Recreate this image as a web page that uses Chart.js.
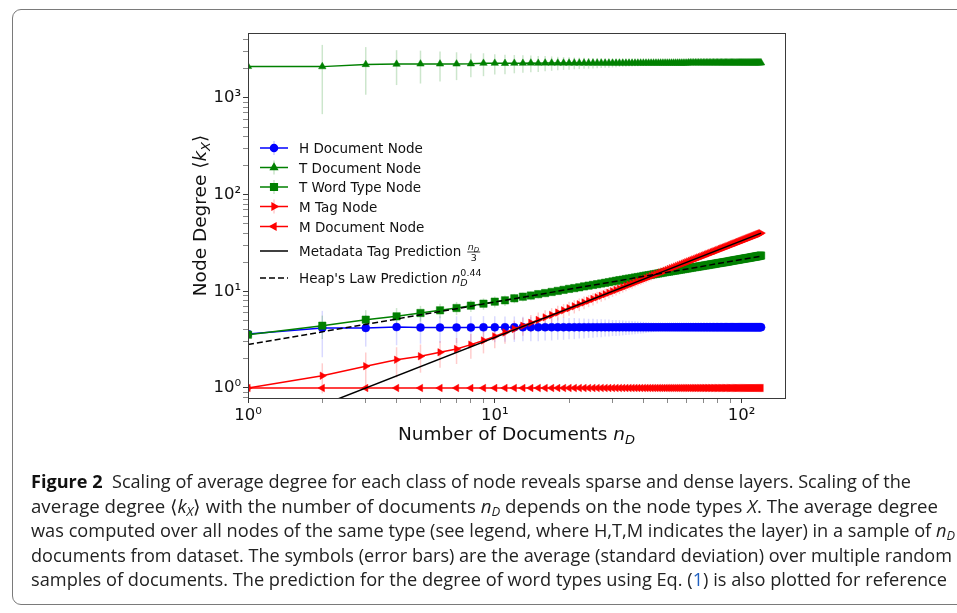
<!DOCTYPE html>
<html>
<head>
<meta charset="utf-8">
<script src="https://cdn.jsdelivr.net/npm/chart.js@4.4.1/dist/chart.umd.min.js"></script>
<style>
  html, body { margin: 0; padding: 0; background: #fff; }
  body { width: 957px; height: 613px; position: relative; overflow: hidden; }
  #frame { position: absolute; left: 12px; top: 9px; width: 1000px; height: 596px; border: 1.5px solid #7a7a7a; border-radius: 9px; box-sizing: border-box; }
  #chart { position: absolute; left: 0; top: 0; }
  .cap { position: absolute; left: 31px; white-space: nowrap; font-family: 'Open Sans', sans-serif; font-size: 17.5px; line-height: 20px; color: #222; transform-origin: 0 0; }
  .cap b { font-weight: 700; color: #111; }
  .cap sub { font-size: 70%; vertical-align: -0.25em; line-height: 0; }
  .cap .ref { color: #2060c0; }
</style>
</head>
<body>
<div id="frame"></div>
<canvas id="chart" width="957" height="613"></canvas>

<div class="cap" data-right="911" data-base="488"><b>Figure 2</b>&nbsp; Scaling of average degree for each class of node reveals sparse and dense layers. Scaling of the</div>
<div class="cap" data-right="938" data-base="512.5">average degree ⟨<i>k</i><sub><i>X</i></sub>⟩ with the number of documents <i>n</i><sub><i>D</i></sub> depends on the node types <i>X</i>. The average degree</div>
<div class="cap" data-right="955" data-base="537">was computed over all nodes of the same type (see legend, where H,T,M indicates the layer) in a sample of <i>n</i><sub><i>D</i></sub></div>
<div class="cap" data-right="952" data-base="561.5">documents from dataset. The symbols (error bars) are the average (standard deviation) over multiple random</div>
<div class="cap" data-right="947" data-base="586">samples of documents. The prediction for the degree of word types using Eq. (<span class="ref">1</span>) is also plotted for reference</div>

<script>
// number of documents in the sample
const nDocs = [
  1, 2, 3, 4, 5, 6, 7, 8, 9, 10,
  11, 12, 13, 14, 15, 16, 17, 18, 19, 20,
  21, 22, 23, 24, 25, 26, 27, 28, 29, 30,
  31, 32, 33, 34, 35, 36, 37, 38, 39, 40,
  41, 42, 43, 44, 45, 46, 47, 48, 49, 50,
  51, 52, 53, 54, 55, 56, 57, 58, 59, 60,
  61, 62, 63, 64, 65, 66, 67, 68, 69, 70,
  71, 72, 73, 74, 75, 76, 77, 78, 79, 80,
  81, 82, 83, 84, 85, 86, 87, 88, 89, 90,
  91, 92, 93, 94, 95, 96, 97, 98, 99, 100,
  101, 102, 103, 104, 105, 106, 107, 108, 109, 110,
  111, 112, 113, 114, 115, 116, 117, 118, 119, 120
];

// H Document Node
const hDoc = [
  3.62, 4.18, 4.18, 4.27, 4.22, 4.22, 4.22, 4.23, 4.24, 4.24,
  4.25, 4.25, 4.25, 4.25, 4.25, 4.25, 4.25, 4.25, 4.25, 4.25,
  4.25, 4.25, 4.25, 4.25, 4.25, 4.25, 4.25, 4.25, 4.25, 4.25,
  4.25, 4.25, 4.25, 4.25, 4.25, 4.25, 4.25, 4.25, 4.25, 4.25,
  4.25, 4.25, 4.25, 4.25, 4.25, 4.25, 4.25, 4.25, 4.25, 4.25,
  4.25, 4.25, 4.25, 4.25, 4.25, 4.25, 4.25, 4.25, 4.25, 4.25,
  4.25, 4.25, 4.25, 4.25, 4.25, 4.25, 4.25, 4.25, 4.25, 4.25,
  4.25, 4.25, 4.25, 4.25, 4.25, 4.25, 4.25, 4.25, 4.25, 4.25,
  4.25, 4.25, 4.25, 4.25, 4.25, 4.25, 4.25, 4.25, 4.25, 4.25,
  4.25, 4.25, 4.25, 4.25, 4.25, 4.25, 4.25, 4.25, 4.25, 4.25,
  4.25, 4.25, 4.25, 4.25, 4.25, 4.25, 4.25, 4.25, 4.25, 4.25,
  4.25, 4.25, 4.25, 4.25, 4.25, 4.25, 4.25, 4.25, 4.25, 4.25
];
const hDocStd = [
  0, 2.1, 1.5, 1.5, 1.35, 1.3, 1.3, 1.3, 1.3, 1.27,
  1.25, 1.25, 1.2, 1.2, 1.2, 1.15, 1.15, 1.1, 1.1, 1.05,
  1.05, 1.0, 1.0, 0.95, 0.95, 0.9, 0.9, 0.85, 0.85, 0.8,
  0.8, 0.78, 0.75, 0.72, 0.7, 0.68, 0.65, 0.62, 0.6, 0.58,
  0.55, 0.5, 0.48, 0.45, 0.42, 0.4, 0.38, 0.35, 0.32, 0.3
];

// T Document Node
const tDoc = [
  2120, 2110, 2220, 2240, 2250, 2250, 2250, 2260, 2290, 2290,
  2280, 2290, 2290, 2300, 2290, 2300, 2300, 2300, 2300, 2300,
  2300, 2300, 2300, 2300, 2300, 2300, 2300, 2300, 2300, 2300,
  2300, 2300, 2300, 2300, 2300, 2300, 2300, 2300, 2300, 2300,
  2300, 2300, 2300, 2300, 2300, 2300, 2300, 2300, 2300, 2300,
  2300, 2300, 2300, 2300, 2300, 2300, 2300, 2300, 2300, 2300,
  2310, 2310, 2310, 2310, 2310, 2310, 2310, 2310, 2310, 2310,
  2310, 2310, 2310, 2310, 2310, 2310, 2310, 2310, 2310, 2310,
  2310, 2310, 2310, 2310, 2310, 2310, 2310, 2310, 2310, 2310,
  2310, 2310, 2310, 2310, 2310, 2310, 2310, 2310, 2310, 2310,
  2310, 2310, 2310, 2310, 2310, 2310, 2310, 2310, 2310, 2310,
  2310, 2310, 2310, 2310, 2310, 2310, 2310, 2310, 2310, 2310
];
const tDocStd = [
  0, 1430, 1140, 880, 840, 770, 720, 625, 610, 545,
  520, 490, 470, 450, 430, 410, 390, 370, 350, 340,
  320, 310, 300, 290, 280, 270, 260, 250, 240, 230,
  220, 210, 200, 195, 190, 180, 175, 170, 160, 155,
  150, 145, 140, 135, 130, 125, 120, 115, 110, 105
];

// T Word Type Node
const tWord = [
  3.56, 4.41, 5.09, 5.51, 5.97, 6.36, 6.72, 7.11, 7.45, 7.82,
  8.07, 8.47, 8.8, 9.05, 9.35, 9.6, 9.85, 10.1, 10.35, 10.6,
  10.8, 11.0, 11.25, 11.45, 11.65, 11.85, 12.05, 12.25, 12.45, 12.65,
  12.85, 13.05, 13.2, 13.4, 13.55, 13.7, 13.9, 14.05, 14.2, 14.4,
  14.55, 14.7, 14.85, 15.0, 15.15, 15.3, 15.45, 15.6, 15.75, 15.9,
  16.0, 16.15, 16.3, 16.4, 16.55, 16.7, 16.8, 16.95, 17.05, 17.2,
  17.3, 17.45, 17.55, 17.7, 17.8, 17.9, 18.05, 18.15, 18.25, 18.4,
  18.5, 18.6, 18.7, 18.85, 18.95, 19.05, 19.15, 19.25, 19.4, 19.5,
  19.6, 19.7, 19.8, 19.9, 20.0, 20.1, 20.2, 20.3, 20.4, 20.55,
  20.65, 20.75, 20.85, 20.95, 21.05, 21.15, 21.25, 21.35, 21.45, 21.55,
  21.65, 21.75, 21.85, 21.95, 22.0, 22.1, 22.2, 22.3, 22.4, 22.5,
  22.6, 22.7, 22.8, 22.9, 22.95, 23.05, 23.15, 23.25, 23.35, 23.45
];
const tWordStd = [
  0, 1.2, 1.3, 1.2, 1.1, 1.1, 1.05, 1.0, 1.0, 1.0,
  1.0, 0.95, 0.95, 0.95, 0.9, 0.9, 0.9, 0.9, 0.85, 0.85,
  0.85, 0.85, 0.8, 0.8, 0.8, 0.8, 0.8, 0.75, 0.75, 0.75,
  0.75, 0.75, 0.72, 0.72, 0.7, 0.7, 0.7, 0.68, 0.68, 0.66,
  0.66, 0.65, 0.65, 0.64, 0.63, 0.62, 0.62, 0.61, 0.6, 0.6
];

// M Tag Node
const mTag = [
  1.0, 1.34, 1.68, 1.96, 2.13, 2.34, 2.53, 2.81, 3.1, 3.42,
  3.75, 4.07, 4.4, 4.73, 5.06, 5.38, 5.7, 6.03, 6.36, 6.69,
  7.0, 7.34, 7.67, 8.0, 8.34, 8.67, 9.0, 9.34, 9.67, 10.0,
  10.34, 10.67, 11.0, 11.34, 11.67, 12.0, 12.34, 12.67, 13.0, 13.34,
  13.67, 14.0, 14.34, 14.67, 15.0, 15.34, 15.67, 16.0, 16.34, 16.67,
  17.0, 17.34, 17.67, 18.0, 18.34, 18.67, 19.0, 19.34, 19.67, 20.0,
  20.34, 20.67, 21.0, 21.34, 21.67, 22.0, 22.34, 22.67, 23.0, 23.34,
  23.67, 24.0, 24.34, 24.67, 25.0, 25.34, 25.67, 26.0, 26.34, 26.67,
  27.0, 27.34, 27.67, 28.0, 28.34, 28.67, 29.0, 29.34, 29.67, 30.0,
  30.34, 30.67, 31.0, 31.34, 31.67, 32.0, 32.34, 32.67, 33.0, 33.34,
  33.67, 34.0, 34.34, 34.67, 35.0, 35.34, 35.67, 36.0, 36.34, 36.67,
  37.0, 37.34, 37.67, 38.0, 38.34, 38.67, 39.0, 39.34, 39.67, 40.0
];
const mTagStd = [
  0, 0.46, 0.65, 0.68, 0.69, 0.72, 0.76, 0.8, 0.82, 0.85,
  0.88, 0.9, 0.92, 0.95, 0.97, 1.0, 1.0, 1.05, 1.05, 1.1,
  1.1, 1.1, 1.15, 1.15, 1.2, 1.2, 1.2, 1.25, 1.25, 1.25,
  1.3, 1.3, 1.3, 1.3, 1.3, 1.35, 1.35, 1.35, 1.35, 1.35,
  1.4, 1.4, 1.4, 1.4, 1.4, 1.4, 1.4, 1.4, 1.4, 1.4
];

// M Document Node
const mDoc = [
  1, 1, 1, 1, 1, 1, 1, 1, 1, 1,
  1, 1, 1, 1, 1, 1, 1, 1, 1, 1,
  1, 1, 1, 1, 1, 1, 1, 1, 1, 1,
  1, 1, 1, 1, 1, 1, 1, 1, 1, 1,
  1, 1, 1, 1, 1, 1, 1, 1, 1, 1,
  1, 1, 1, 1, 1, 1, 1, 1, 1, 1,
  1, 1, 1, 1, 1, 1, 1, 1, 1, 1,
  1, 1, 1, 1, 1, 1, 1, 1, 1, 1,
  1, 1, 1, 1, 1, 1, 1, 1, 1, 1,
  1, 1, 1, 1, 1, 1, 1, 1, 1, 1,
  1, 1, 1, 1, 1, 1, 1, 1, 1, 1,
  1, 1, 1, 1, 1, 1, 1, 1, 1, 1
];

// prediction lines (straight on log-log axes, so the two end points are enough)
const predX = [1, 120];
const tagPredY = [0.333, 40.0];   // n_D / 3
const heapPredY = [2.81, 23.1];   // Heap's law ~ n_D^0.44

// axis ticks
const xTickValues = [1, 2, 3, 4, 5, 6, 7, 8, 9, 10, 20, 30, 40, 50, 60, 70, 80, 90, 100];
const yTickValues = [0.8, 0.9, 1, 2, 3, 4, 5, 6, 7, 8, 9, 10, 20, 30, 40, 50, 60, 70, 80, 90,
  100, 200, 300, 400, 500, 600, 700, 800, 900, 1000, 2000, 3000, 4000];
const decadeLabels = { 1: '10⁰', 10: '10¹', 100: '10²', 1000: '10³' };

const FAM = 'DejaVu Sans';
const BLUE = '#0000ff', GREEN = '#008000', RED = '#ff0000';
const AXIS = '#3a3a3a';

function pts(xs, ys) {
  return xs.map((x, i) => ({ x, y: ys[i] }));
}

function alpha(hex, a) {
  const v = parseInt(hex.slice(1), 16);
  return `rgba(${(v >> 16) & 255},${(v >> 8) & 255},${v & 255},${a})`;
}

function seriesSet(label, values, errors, color, style, rotation, radius, order) {
  return {
    label,
    data: pts(nDocs, values),
    errors,
    borderColor: color,
    backgroundColor: color,
    borderWidth: 1.5,
    pointStyle: style,
    pointRotation: rotation,
    pointRadius: radius,
    pointBorderWidth: 0.5,
    pointBorderColor: color,
    pointBackgroundColor: color,
    order
  };
}

function fontStr(size, italic) {
  return `${italic ? 'italic ' : ''}${size}px "${FAM}"`;
}

function richWidth(ctx, segs) {
  let w = 0;
  segs.forEach(s => {
    ctx.font = fontStr(s.size, s.italic);
    if (s.stack) return;
    w += ctx.measureText(s.t).width;
  });
  return w;
}

// segments with stack:true do not move the pen (sub/superscript stacked on the same spot)
function drawRich(ctx, segs, x, y) {
  segs.forEach(s => {
    ctx.font = fontStr(s.size, s.italic);
    ctx.fillText(s.t, x, y + (s.dy || 0));
    if (!s.stack) x += ctx.measureText(s.t).width;
  });
  return x;
}

// vertical error bars, drawn under the markers
const errorBars = {
  id: 'errorBars',
  beforeDatasetsDraw(chart) {
    const { ctx, chartArea: a, scales: { x, y } } = chart;
    ctx.save();
    ctx.beginPath();
    ctx.rect(a.left, a.top, a.right - a.left, a.bottom - a.top);
    ctx.clip();
    chart.data.datasets.forEach(ds => {
      if (!ds.errors) return;
      ctx.strokeStyle = alpha(ds.borderColor, ds.borderColor === BLUE ? 0.15 : 0.2);
      ctx.lineWidth = 1.5;
      ds.data.forEach((p, i) => {
        const s = ds.errors[i] || 0;
        if (!s) return;
        const px = x.getPixelForValue(p.x);
        const top = y.getPixelForValue(p.y + s);
        const low = p.y - s > 0 ? y.getPixelForValue(p.y - s) : a.bottom + 2;
        ctx.beginPath();
        ctx.moveTo(px, top);
        ctx.lineTo(px, low);
        ctx.stroke();
      });
    });
    ctx.restore();
  }
};

// top/right spines, axis titles and the in-plot legend
const decorations = {
  id: 'decorations',
  afterDraw(chart) {
    const { ctx, chartArea: a } = chart;
    ctx.save();
    ctx.strokeStyle = AXIS;
    ctx.lineWidth = 1;
    ctx.strokeRect(a.left + 0.5, a.top + 0.5, a.right - a.left, a.bottom - a.top);

    ctx.fillStyle = '#111';
    ctx.textBaseline = 'alphabetic';

    // x title
    const xt = [
      { t: 'Number of Documents ', size: 18.5 },
      { t: 'n', size: 18.5, italic: true },
      { t: 'D', size: 13, italic: true, dy: 4 }
    ];
    drawRich(ctx, xt, (a.left + a.right) / 2 - richWidth(ctx, xt) / 2, 440);

    // y title
    const yt = [
      { t: 'Node Degree ⟨', size: 18.5 },
      { t: 'k', size: 18.5, italic: true },
      { t: 'X', size: 13, italic: true, dy: 4 },
      { t: '⟩', size: 18.5 }
    ];
    ctx.save();
    ctx.translate(206, (a.top + a.bottom) / 2);
    ctx.rotate(-Math.PI / 2);
    drawRich(ctx, yt, -richWidth(ctx, yt) / 2, 0);
    ctx.restore();

    // legend
    const rowsY = [148, 167.5, 187, 206.5, 226.5, 251, 278];
    const x0 = 260, x1 = 288, tx = 299;
    chart.data.datasets.forEach((ds, i) => {
      const ry = rowsY[i];
      if (ds.errors) {
        ctx.strokeStyle = alpha(ds.borderColor, 0.2);
        ctx.lineWidth = 1.5;
        ctx.beginPath();
        ctx.moveTo((x0 + x1) / 2, ry - 7);
        ctx.lineTo((x0 + x1) / 2, ry + 7);
        ctx.stroke();
      }
      ctx.strokeStyle = ds.borderColor;
      ctx.lineWidth = 1.5;
      ctx.setLineDash(ds.borderDash || []);
      ctx.beginPath();
      ctx.moveTo(x0, ry);
      ctx.lineTo(x1, ry);
      ctx.stroke();
      ctx.setLineDash([]);
      if (ds.pointRadius) {
        ctx.fillStyle = ds.borderColor;
        Chart.helpers.drawPoint(ctx, {
          pointStyle: ds.pointStyle, rotation: ds.pointRotation,
          radius: ds.pointRadius - 0.5, borderWidth: 0.5
        }, (x0 + x1) / 2, ry);
      }
      ctx.fillStyle = '#111';
      const segs = ds.legendSegs || [{ t: ds.label, size: 13.5 }];
      const end = drawRich(ctx, segs, tx, ry + 5);
      if (ds.legendFrac) {
        const fx = end + 2;
        drawRich(ctx, [{ t: 'n', size: 9.5, italic: true }, { t: 'D', size: 7, italic: true, dy: 2 }], fx, ry - 1);
        ctx.strokeStyle = '#111';
        ctx.lineWidth = 0.8;
        ctx.beginPath();
        ctx.moveTo(fx - 0.5, ry + 1);
        ctx.lineTo(fx + 12.5, ry + 1);
        ctx.stroke();
        drawRich(ctx, [{ t: '3', size: 9.5 }], fx + 3, ry + 10);
      }
    });
    ctx.restore();
  }
};

const datasets = [
  seriesSet('H Document Node', hDoc, hDocStd, BLUE, 'circle', 0, 4, 7),
  seriesSet('T Document Node', tDoc, tDocStd, GREEN, 'triangle', 0, 4.3, 6),
  seriesSet('T Word Type Node', tWord, tWordStd, GREEN, 'rect', 0, 5.2, 5),
  seriesSet('M Tag Node', mTag, mTagStd, RED, 'triangle', 90, 4.3, 4),
  seriesSet('M Document Node', mDoc, null, RED, 'triangle', -90, 4.3, 3),
  {
    label: 'Metadata Tag Prediction n_D/3',
    legendSegs: [{ t: 'Metadata Tag Prediction ', size: 13.5 }],
    legendFrac: true,
    data: pts(predX, tagPredY),
    borderColor: '#000', borderWidth: 1.5, pointRadius: 0, order: 1
  },
  {
    label: "Heap's Law Prediction n_D^0.44",
    legendSegs: [
      { t: "Heap's Law Prediction ", size: 13.5 },
      { t: 'n', size: 13.5, italic: true },
      { t: 'D', size: 9.5, italic: true, dy: 3, stack: true },
      { t: '0.44', size: 9.5, dy: -7 }
    ],
    data: pts(predX, heapPredY),
    borderColor: '#000', borderWidth: 1.5, borderDash: [6, 3], pointRadius: 0, order: 0
  }
];

function tickSet(values) {
  return values.map(v => ({ value: v, major: decadeLabels[v] !== undefined }));
}

const tickFont = { family: FAM, size: 16.5 };

new Chart(document.getElementById('chart'), {
  type: 'line',
  data: { datasets },
  options: {
    responsive: false,
    animation: false,
    events: [],
    layout: { padding: { left: 0, top: 33, right: 172, bottom: 175 } },
    plugins: { legend: { display: false }, tooltip: { enabled: false } },
    scales: {
      x: {
        type: 'logarithmic',
        min: 1,
        max: 150,
        afterBuildTicks: s => { s.ticks = tickSet(xTickValues); },
        afterFit: s => { s.height = 40; },
        ticks: {
          autoSkip: false, maxRotation: 0, minRotation: 0, padding: 3,
          color: '#111', font: tickFont,
          callback: v => decadeLabels[v] || ''
        },
        grid: {
          drawOnChartArea: false, tickLength: 5, tickColor: AXIS,
          tickWidth: c => (c.tick && c.tick.major ? 1 : 0.6)
        },
        border: { color: AXIS, width: 1 }
      },
      y: {
        type: 'logarithmic',
        min: 0.788,
        max: 4700,
        afterBuildTicks: s => { s.ticks = tickSet(yTickValues); },
        afterFit: s => { s.width = 248; },
        ticks: {
          autoSkip: false, padding: 2,
          color: '#111', font: tickFont,
          callback: v => decadeLabels[v] || ''
        },
        grid: {
          drawOnChartArea: false, tickLength: 5, tickColor: AXIS,
          tickWidth: c => (c.tick && c.tick.major ? 1 : 0.6)
        },
        border: { color: AXIS, width: 1 }
      }
    }
  },
  plugins: [errorBars, decorations]
});

// fit each caption line to its measured width and baseline
document.querySelectorAll('.cap').forEach(el => {
  const w = el.getBoundingClientRect().width;
  el.style.top = (parseFloat(el.dataset.base) - 17) + 'px';
  el.style.transform = `scaleX(${(parseFloat(el.dataset.right) - 31) / w})`;
});
</script>
</body>
</html>
